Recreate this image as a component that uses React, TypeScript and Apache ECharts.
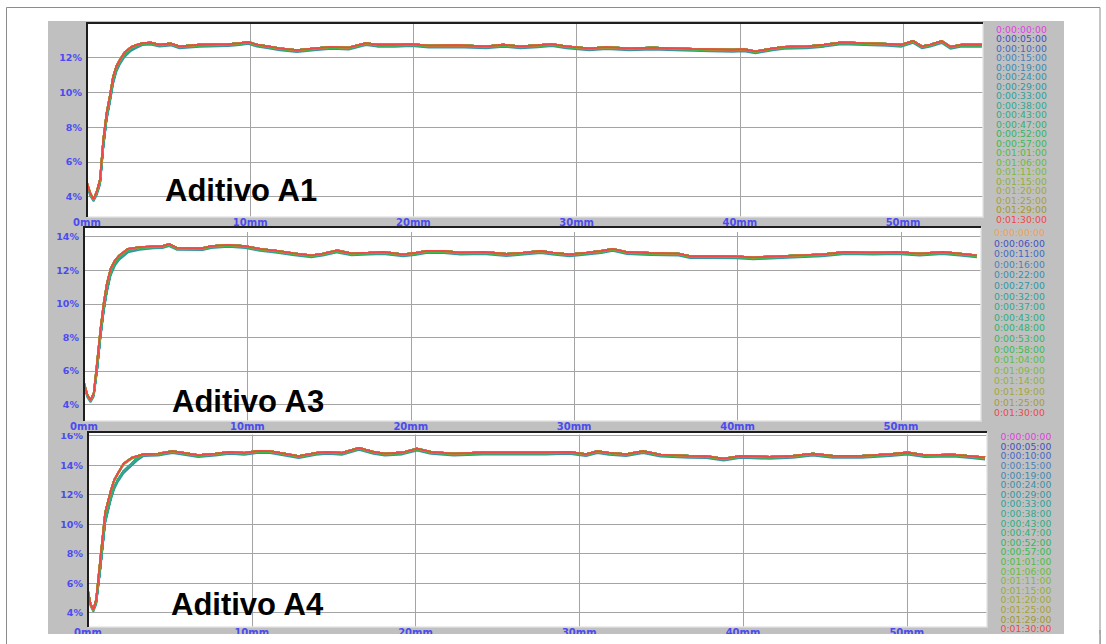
import React, { useEffect, useRef } from "react";
import * as echarts from "echarts";

// ---------- data ----------
const a1Times = ["0:00:00:00","0:00:05:00","0:00:10:00","0:00:15:00","0:00:19:00","0:00:24:00","0:00:29:00","0:00:33:00","0:00:38:00","0:00:43:00","0:00:47:00","0:00:52:00","0:00:57:00","0:01:01:00","0:01:06:00","0:01:11:00","0:01:15:00","0:01:20:00","0:01:25:00","0:01:29:00","0:01:30:00"];
const a3Times = ["0:00:00:00","0:00:06:00","0:00:11:00","0:00:16:00","0:00:22:00","0:00:27:00","0:00:32:00","0:00:37:00","0:00:43:00","0:00:48:00","0:00:53:00","0:00:58:00","0:01:04:00","0:01:09:00","0:01:14:00","0:01:19:00","0:01:25:00","0:01:30:00"];
const a4Times = ["0:00:00:00","0:00:05:00","0:00:10:00","0:00:15:00","0:00:19:00","0:00:24:00","0:00:29:00","0:00:33:00","0:00:38:00","0:00:43:00","0:00:47:00","0:00:52:00","0:00:57:00","0:01:01:00","0:01:06:00","0:01:11:00","0:01:15:00","0:01:20:00","0:01:25:00","0:01:29:00","0:01:30:00"];

const colors21 = ["#e040e0","#4450c0","#4468c0","#4a80b8","#3f88b0","#3890a8","#30989f","#2fa098","#30a88e","#30ac80","#32b070","#34b460","#3cb850","#50bc40","#68bc3c","#80b838","#90b038","#a0a838","#a8a038","#a09830","#f04848"];
const colors18 = ["#f0a050","#4450c0","#4468c0","#4a80b8","#3a8cb0","#3096a4","#30a098","#30a88c","#30ac7e","#32b26c","#36b65c","#40ba4c","#60bc3e","#80b838","#94b038","#a4a638","#a89c34","#f04848"];

// [mm, %]
const a1Rise: [number, number][] = [[0,4.8],[0.2,4.2],[0.4,3.85],[0.6,4.3],[0.8,5.0],[1.0,7.3],[1.2,8.8],[1.4,9.8],[1.6,10.9],[1.8,11.5],[2.0,11.85],[2.3,12.3],[2.69,12.6],[3.0,12.72]];
const a1RiseEarly: [number, number][] = [[0,4.7],[0.2,4.15],[0.4,3.85],[0.6,4.2],[0.8,4.8],[1.0,6.9],[1.2,8.5],[1.4,9.5],[1.6,10.6],[1.8,11.3],[2.0,11.7],[2.3,12.15],[2.69,12.5],[3.0,12.65]];
const a1Plateau: [number, number][] = [[3.39,12.83],[3.91,12.86],[4.44,12.74],[5.14,12.81],[5.67,12.65],[6.9,12.74],[8.66,12.77],[9.36,12.83],[9.88,12.91],[10.41,12.74],[11.11,12.65],[11.82,12.53],[12.87,12.43],[13.92,12.53],[14.98,12.62],[16.03,12.57],[17.09,12.83],[17.78,12.74],[18.84,12.74],[19.89,12.77],[20.95,12.69],[22.7,12.71],[24.46,12.65],[25.51,12.74],[26.56,12.65],[27.62,12.71],[28.49,12.77],[29.37,12.65],[30.78,12.53],[31.83,12.6],[33.23,12.53],[34.64,12.57],[36.04,12.53],[37.1,12.5],[38.15,12.48],[39.55,12.45],[40.26,12.48],[40.96,12.36],[42.01,12.53],[42.71,12.62],[44.12,12.65],[45.17,12.74],[46.23,12.88],[47.63,12.83],[49.04,12.79],[49.91,12.74],[50.62,12.96],[51.15,12.65],[51.67,12.74],[52.37,12.95],[52.9,12.62],[53.6,12.74],[54.83,12.74]];

const a3Rise: [number, number][] = [[0,5.3],[0.2,4.6],[0.4,4.25],[0.6,4.7],[0.8,6.5],[1.0,8.4],[1.2,10.0],[1.4,11.2],[1.63,12.1],[1.9,12.6],[2.16,12.89],[2.69,13.28],[3.39,13.38]];
const a3RiseEarly: [number, number][] = [[0,5.2],[0.2,4.55],[0.4,4.25],[0.6,4.6],[0.8,6.1],[1.0,8.0],[1.2,9.6],[1.4,10.8],[1.63,11.8],[1.9,12.4],[2.16,12.75],[2.69,13.18],[3.39,13.34]];
const a3Plateau: [number, number][] = [[4.27,13.42],[4.79,13.44],[5.21,13.56],[5.67,13.34],[7.25,13.32],[7.78,13.44],[8.83,13.52],[9.88,13.44],[10.76,13.28],[11.82,13.16],[12.87,13.01],[13.92,12.89],[14.62,12.99],[15.5,13.18],[16.38,13.01],[17.43,13.05],[18.31,13.09],[19.54,12.95],[20.24,13.03],[20.95,13.15],[22.0,13.15],[23.05,13.05],[24.46,13.09],[25.86,12.97],[26.91,13.05],[27.97,13.15],[28.67,13.05],[29.72,12.95],[30.78,13.05],[31.66,13.15],[32.36,13.28],[33.23,13.09],[34.64,13.03],[36.39,12.99],[37.1,12.85],[38.5,12.85],[39.9,12.83],[40.96,12.77],[42.36,12.83],[43.77,12.89],[45.17,12.95],[46.58,13.09],[48.33,13.05],[49.74,13.09],[51.15,12.99],[52.55,13.09],[53.6,12.99],[54.65,12.89]];

const a4Rise: [number, number][] = [[0,5.5],[0.15,4.6],[0.33,4.2],[0.5,4.9],[0.75,7.6],[1.05,10.8],[1.4,12.3],[1.6,13.0],[1.82,13.44],[2.18,14.11],[2.7,14.52]];
const a4RiseEarly: [number, number][] = [[0,5.4],[0.15,4.6],[0.33,4.2],[0.5,4.7],[0.75,7.0],[1.05,10.2],[1.4,11.8],[1.6,12.5],[1.82,13.0],[2.18,13.6],[2.7,14.15],[3.0,14.45]];
const a4Plateau: [number, number][] = [[3.4,14.75],[4.28,14.79],[5.16,14.95],[5.86,14.84],[6.73,14.68],[7.79,14.79],[8.66,14.9],[9.54,14.84],[10.42,14.97],[11.12,14.95],[12.0,14.79],[12.87,14.61],[13.92,14.84],[14.62,14.9],[15.5,14.84],[16.55,15.18],[17.43,14.9],[18.13,14.79],[19.18,14.86],[20.1,15.13],[20.94,14.9],[22.34,14.79],[24.1,14.86],[25.85,14.86],[27.96,14.86],[29.36,14.9],[30.41,14.75],[31.11,14.95],[31.81,14.84],[32.86,14.75],[33.9,14.95],[34.96,14.72],[36.72,14.63],[37.77,14.61],[38.82,14.45],[39.87,14.63],[41.63,14.56],[43.04,14.63],[44.26,14.79],[45.49,14.63],[47.24,14.63],[49.0,14.75],[50.05,14.86],[51.1,14.68],[52.85,14.72],[53.9,14.61],[54.78,14.52]];

const panelTitles = ["Aditivo A1", "Aditivo A3", "Aditivo A4"];
const xMaxMm = 54.9;

// ---------- layout ----------
const BLUE = "#4b4bf0";
const panels = [
  { times: a1Times, colors: colors21, rise: a1Rise, riseEarly: a1RiseEarly, plateau: a1Plateau, min: 2.83, max: 13.99,
    L: 87, T: 23, R: 983, B: 217, tx: 165, ty: 190, lx: 996, ly: 29, ls: 9.5, shadowA: 5, shadowB: 12 },
  { times: a3Times, colors: colors18, rise: a3Rise, riseEarly: a3RiseEarly, plateau: a3Plateau, min: 3.02, max: 14.58,
    L: 84, T: 227, R: 981, B: 421, tx: 172, ty: 401, lx: 994, ly: 232.5, ls: 10.6, shadowA: 5, shadowB: 11 },
  { times: a4Times, colors: colors21, rise: a4Rise, riseEarly: a4RiseEarly, plateau: a4Plateau, min: 3.03, max: 16.25,
    L: 88, T: 432, R: 987, B: 627, tx: 171, ty: 604, lx: 1000.5, ly: 436.7, ls: 9.6, shadowA: 5, shadowB: 12 },
];

function buildOption() {
  const grid: any[] = [];
  const xAxis: any[] = [];
  const yAxis: any[] = [];
  const series: any[] = [];
  const graphics: any[] = [];

  graphics.push({ type: "rect", shape: { x: 6.5, y: 7.5, width: 1093.5, height: 700 }, style: { fill: "#ffffff", stroke: "#8c8c8c", lineWidth: 1 }, z: -30, silent: true });
  graphics.push({ type: "rect", shape: { x: 48, y: 21, width: 1016, height: 613 }, style: { fill: "#c0c0c0" }, z: -25, silent: true });

  panels.forEach((p, gi) => {
    grid.push({ left: p.L, top: p.T, width: p.R - p.L, height: p.B - p.T, show: false, containLabel: false, outerBoundsMode: "none" });
    xAxis.push({
      type: "value", gridIndex: gi, min: 0, max: xMaxMm, interval: 10,
      axisLine: { show: false }, axisTick: { show: false },
      splitLine: { show: true, lineStyle: { color: "#a4a4a4", width: 1 } },
      axisLabel: {
        margin: 0, color: BLUE, fontFamily: "DejaVu Sans", fontWeight: "bold", fontSize: 10,
        formatter: (v: number) => (Math.abs(v % 10) < 1e-6 ? `${Math.round(v)}mm` : ""),
      },
    });
    yAxis.push({
      type: "value", gridIndex: gi, min: p.min, max: p.max, minInterval: 2, maxInterval: 2, splitNumber: 6,
      axisLine: { show: false }, axisTick: { show: false },
      splitLine: { show: true, lineStyle: { color: "#a4a4a4", width: 1 } },
      axisLabel: {
        margin: 5, color: BLUE, fontFamily: "DejaVu Sans", fontWeight: "bold", fontSize: 9.5, padding: [0, 0, 3, 0],
        formatter: (v: number) => {
          const r = Math.round(v);
          return Math.abs(v - r) < 1e-6 && r % 2 === 0 ? `${r}%` : "";
        },
      },
    });
    const half = Math.floor(p.times.length / 2);
    p.times.forEach((t, i) => {
      const data = (i < half ? p.riseEarly : p.rise).concat(p.plateau);
      const ls: any = { color: p.colors[i], width: 1.8 };
      if (i === p.shadowA) { ls.shadowColor = p.colors[i]; ls.shadowOffsetY = 2; ls.shadowBlur = 0; }
      if (i === p.shadowB) { ls.shadowColor = p.colors[i]; ls.shadowOffsetY = 1; ls.shadowBlur = 0; }
      series.push({
        type: "line", name: t, xAxisIndex: gi, yAxisIndex: gi, data,
        showSymbol: false, symbol: "none", silent: true,
        lineStyle: ls, itemStyle: { color: p.colors[i] },
      });
    });

    // plot background
    graphics.push({ type: "rect", shape: { x: p.L, y: p.T, width: p.R - p.L, height: p.B - p.T }, style: { fill: "#ffffff" }, z: -20, silent: true });
    // legend texts
    p.times.forEach((t, i) => {
      graphics.push({
        type: "text", x: p.lx, y: p.ly + i * p.ls, z: 70, silent: true,
        style: { text: t, fill: p.colors[i], fontSize: 9.3, fontFamily: "DejaVu Sans", align: "left", verticalAlign: "middle", textAlign: "left", textVerticalAlign: "middle" },
      });
    });
    // title
    graphics.push({
      type: "text", x: p.tx, y: p.ty, z: 70, silent: true,
      style: { text: panelTitles[gi], fill: "#000000", fontSize: 31, fontWeight: "bold", fontFamily: "Liberation Sans, Arial", align: "left", verticalAlign: "middle", textAlign: "left", textVerticalAlign: "middle" },
    });
  });

  // clip covers for the cut x labels
  const p2 = panels[1];
  const p3 = panels[2];
  graphics.push({ type: "rect", shape: { x: 48, y: 226, width: p2.L - 48, height: 3 }, style: { fill: "#c0c0c0" }, z: 55, silent: true });
  graphics.push({ type: "rect", shape: { x: p2.L, y: 226, width: p2.R - p2.L, height: 6 }, style: { fill: "#ffffff" }, z: 55, silent: true });
  graphics.push({ type: "rect", shape: { x: 48, y: 431, width: p3.L - 48, height: 2 }, style: { fill: "#c0c0c0" }, z: 55, silent: true });
  graphics.push({ type: "rect", shape: { x: p3.L, y: 431, width: p3.R - p3.L, height: 3.5 }, style: { fill: "#ffffff" }, z: 55, silent: true });
  graphics.push({ type: "rect", shape: { x: 7, y: 634, width: 1092.5, height: 12 }, style: { fill: "#ffffff" }, z: 55, silent: true });
  graphics.push({ type: "line", shape: { x1: 6.5, y1: 630, x2: 6.5, y2: 644 }, style: { stroke: "#8c8c8c", lineWidth: 1 }, z: 56, silent: true });
  graphics.push({ type: "line", shape: { x1: 1100, y1: 630, x2: 1100, y2: 644 }, style: { stroke: "#8c8c8c", lineWidth: 1 }, z: 56, silent: true });

  // plot borders (sunken look)
  panels.forEach((p) => {
    graphics.push({ type: "polyline", shape: { points: [[p.L, p.B], [p.R, p.B], [p.R, p.T]] }, style: { stroke: "#e6e6e6", lineWidth: 1.5, fill: null }, z: 56, silent: true });
    graphics.push({ type: "polyline", shape: { points: [[p.L, p.B], [p.L, p.T], [p.R, p.T]] }, style: { stroke: "#1e1e1e", lineWidth: 2, fill: null }, z: 57, silent: true });
  });

  return {
    animation: false,
    backgroundColor: "#ffffff",
    grid, xAxis, yAxis, series,
    graphic: { elements: graphics },
  };
}

export default function App() {
  const ref = useRef<HTMLDivElement>(null);
  useEffect(() => {
    if (!ref.current) return;
    const chart = echarts.init(ref.current, undefined, { renderer: "svg" });
    chart.setOption(buildOption() as any);
    return () => chart.dispose();
  }, []);
  return <div ref={ref} style={{ position: "fixed", left: 0, top: 0, width: 1106, height: 644 }} />;
}
